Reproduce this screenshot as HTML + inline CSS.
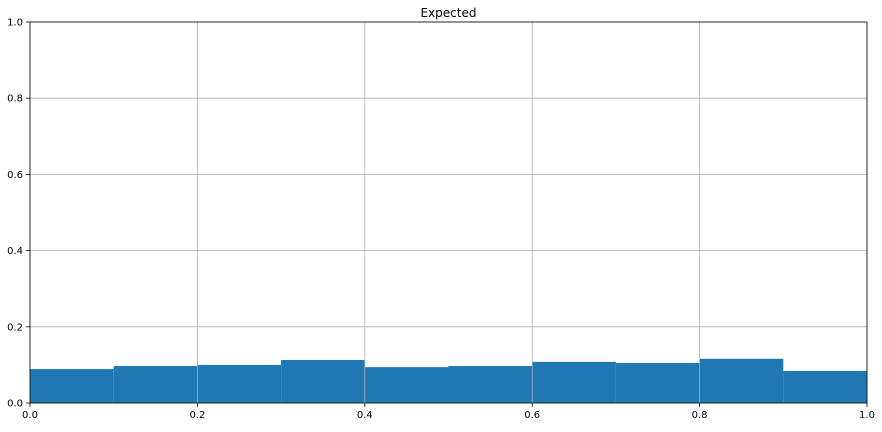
<!DOCTYPE html>
<html><head><meta charset="utf-8"><style>
body{margin:0;background:#fff;font-family:"Liberation Sans","DejaVu Sans",sans-serif;}
svg text{font-family:"DejaVu Sans","Liberation Sans",sans-serif;font-size:10px;fill:#000;}
</style></head><body>
<svg id="chart" width="882" height="427"></svg>
<script>
const binEdges=[0,0.1,0.2,0.3,0.4,0.5,0.6,0.7,0.8,0.9,1.0];
const binValues=[0.089,0.097,0.100,0.113,0.094,0.097,0.108,0.105,0.116,0.084];
const xTicks=[0,0.2,0.4,0.6,0.8,1.0];
const xTickLabels=["0.0","0.2","0.4","0.6","0.8","1.0"];
const yTicks=[0,0.2,0.4,0.6,0.8,1.0];
const yTickLabels=["0.0","0.2","0.4","0.6","0.8","1.0"];
const L=30,R=867,T=22,B=403;
const sx=v=>L+(R-L)*v, sy=v=>B-(B-T)*v;
const svg=document.getElementById('chart');const NS='http://www.w3.org/2000/svg';
function mk(t,a,p){const e=document.createElementNS(NS,t);for(const k in a)e.setAttribute(k,a[k]);(p||svg).appendChild(e);return e;}
const title=mk('text',{x:(L+R)/2,y:17,'text-anchor':'middle','font-size':'12'});


title.textContent='Expected';title.style.fontSize='12px';
// bars
binValues.forEach((v,i)=>{const x0=sx(binEdges[i]),x1=sx(binEdges[i+1]);
const r=mk('rect',{x:x0,y:sy(v),width:x1-x0,height:B-sy(v),fill:'#1f77b4'});

});
// grid
xTicks.forEach((v,i)=>{const g=mk('line',{x1:sx(v),x2:sx(v),y1:T,y2:B,stroke:'#b0b0b0','stroke-width':0.8});


mk('line',{x1:sx(v),x2:sx(v),y1:B,y2:B+4,stroke:'#000','stroke-width':0.8});
const t=mk('text',{x:sx(v),y:B+15,'text-anchor':'middle'});


t.textContent=xTickLabels[i];});
yTicks.forEach((v,i)=>{const g=mk('line',{x1:L,x2:R,y1:sy(v),y2:sy(v),stroke:'#b0b0b0','stroke-width':0.8});


mk('line',{x1:L-4,x2:L,y1:sy(v),y2:sy(v),stroke:'#000','stroke-width':0.8});
const t=mk('text',{x:L-7,y:sy(v)+3.5,'text-anchor':'end'});


t.textContent=yTickLabels[i];});
const f=mk('rect',{x:L,y:T,width:R-L,height:B-T,fill:'none',stroke:'#000','stroke-width':0.8});


</script>
</body></html>
